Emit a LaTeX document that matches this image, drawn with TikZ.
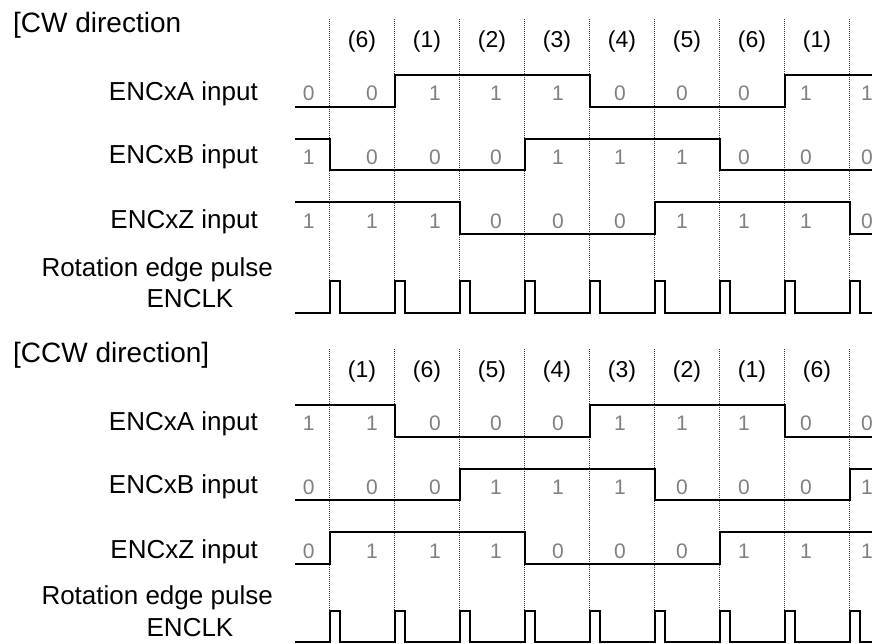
\documentclass[tikz,border=0pt]{standalone}
\usepackage{fontspec}
\setmainfont{Liberation Sans}
\definecolor{valgrey}{RGB}{128,128,128}
\definecolor{gridgrey}{RGB}{55,55,55}
\begin{document}
\begin{tikzpicture}[x=1pt,y=-1pt,
  sig/.style={line width=2pt, line join=miter, line cap=rect},
  gridline/.style={gridgrey, line width=0.9pt, dash pattern=on 1pt off 1pt},
  ttl/.style={inner sep=0, anchor=base west, font=\fontsize{28}{32}\selectfont},
  lab/.style={inner sep=0, anchor=base east, font=\fontsize{26}{30}\selectfont},
  ph/.style={inner sep=0, anchor=base, font=\fontsize{23}{27}\selectfont},
  val/.style={inner sep=0, anchor=base, text=valgrey, font=\fontsize{21}{25}\selectfont}]
\useasboundingbox (0,0) rectangle (872,643);

% ---------- CW ----------
\node[ttl] (cwtitle) at (13,32) {[CW direction};
\foreach \k in {0,...,8}
  \draw[gridline] ({329.5+65*\k},19) -- ({329.5+65*\k},313);
\foreach \t [count=\i from 0] in {(6),(1),(2),(3),(4),(5),(6),(1)}
  \node[ph] (cwph\i) at ({362+65*\i},47) {\t};

\node[lab] (cwA) at (258,100) {ENCxA input};
\node[lab] (cwB) at (258,163.5) {ENCxB input};
\node[lab] (cwZ) at (258,228) {ENCxZ input};
\node[lab] (cwR) at (273,276) {Rotation edge pulse};
\node[inner sep=0, anchor=base, font=\fontsize{26}{30}\selectfont] (cwK) at (190,307) {ENCLK};

\foreach \x/\a/\b/\z [count=\i] in {308.6/0/1/1, 372/0/0/1, 435/1/0/1, 496/1/0/0, 558/1/1/0, 620/0/1/0, 682/0/1/1, 744/0/0/1, 806/1/0/1, 867/1/0/0}{
  \node[val] (cwva\i) at (\x,100) {\a};
  \node[val] (cwvb\i) at (\x,164) {\b};
  \node[val] (cwvz\i) at (\x,228) {\z};
}

\draw[sig] (296,106.5) -- (394.5,106.5) -- (394.5,75) -- (589.5,75) -- (589.5,106.5) -- (784.5,106.5) -- (784.5,75) -- (872,75);
\draw[sig] (296,138.5) -- (329.5,138.5) -- (329.5,170) -- (524.5,170) -- (524.5,138.5) -- (719.5,138.5) -- (719.5,170) -- (872,170);
\draw[sig] (296,202) -- (459.5,202) -- (459.5,233.5) -- (654.5,233.5) -- (654.5,202) -- (849.5,202) -- (849.5,233.5) -- (872,233.5);
\draw[sig] (296,313) \foreach \k in {0,...,8}{ -- ({329.5+65*\k},313) -- ++(0,-32) -- ++(10.7,0) -- ++(0,32)} -- (872,313);

% ---------- CCW ----------
\node[ttl] (ccwtitle) at (13,362) {[CCW direction]};
\foreach \k in {0,...,8}
  \draw[gridline] ({329.5+65*\k},349) -- ({329.5+65*\k},642);
\foreach \t [count=\i from 0] in {(1),(6),(5),(4),(3),(2),(1),(6)}
  \node[ph] (ccwph\i) at ({362+65*\i},377) {\t};

\node[lab] (ccwA) at (258,430) {ENCxA input};
\node[lab] (ccwB) at (258,493.5) {ENCxB input};
\node[lab] (ccwZ) at (258,558) {ENCxZ input};
\node[lab] (ccwR) at (273,604) {Rotation edge pulse};
\node[inner sep=0, anchor=base, font=\fontsize{26}{30}\selectfont] (ccwK) at (190,636) {ENCLK};

\foreach \x/\a/\b/\z [count=\i] in {308.6/1/0/0, 372/1/0/1, 435/0/0/1, 496/0/1/1, 558/0/1/0, 620/1/1/0, 682/1/0/0, 744/1/0/1, 806/0/0/1, 867/0/1/1}{
  \node[val] (ccwva\i) at (\x,430) {\a};
  \node[val] (ccwvb\i) at (\x,494) {\b};
  \node[val] (ccwvz\i) at (\x,558) {\z};
}

\draw[sig] (296,405) -- (394.5,405) -- (394.5,436.5) -- (589.5,436.5) -- (589.5,405) -- (784.5,405) -- (784.5,436.5) -- (872,436.5);
\draw[sig] (296,500) -- (459.5,500) -- (459.5,468.5) -- (654.5,468.5) -- (654.5,500) -- (849.5,500) -- (849.5,468.5) -- (872,468.5);
\draw[sig] (296,563.5) -- (329.5,563.5) -- (329.5,532) -- (524.5,532) -- (524.5,563.5) -- (719.5,563.5) -- (719.5,532) -- (872,532);
\draw[sig] (296,642) \foreach \k in {0,...,8}{ -- ({329.5+65*\k},642) -- ++(0,-31) -- ++(10.7,0) -- ++(0,31)} -- (872,642);
\end{tikzpicture}
\end{document}
